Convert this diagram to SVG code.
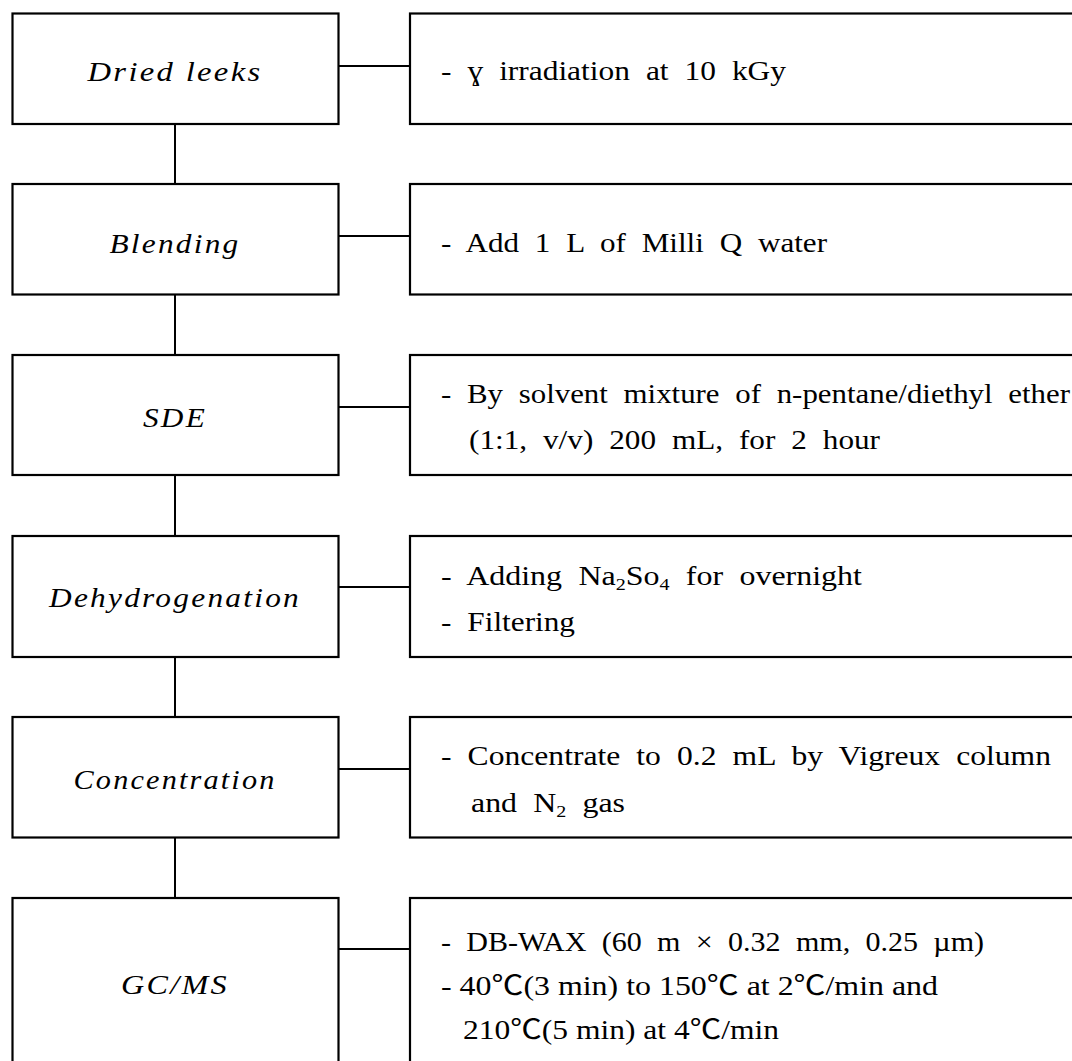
<svg xmlns="http://www.w3.org/2000/svg" width="1072" height="1061" viewBox="0 0 1072 1061">
<style>
.box{fill:#fff;stroke:#000;stroke-width:2.2}
.conn{stroke:#000;stroke-width:2;fill:none}
.lbl{font-family:"Liberation Serif","DejaVu Serif",serif;font-style:italic;font-size:28px;letter-spacing:2px;fill:#000;text-anchor:middle}
.txt{font-family:"Liberation Serif","Noto Sans CJK KR","DejaVu Serif",serif;font-size:27px;fill:#000;word-spacing:7px}
.tight{word-spacing:0}
.sub{font-size:17px}
</style>
<rect width="1072" height="1061" fill="#fff"/>
<g id="connectors">
<path class="conn" d="M175 124V184M175 295V355M175 475V536M175 657V717M175 838V898"/>
<path class="conn" d="M339 66H410M339 236H410M339 407H410M339 587H410M339 769H410M339 949H410"/>
</g>
<g id="n1">
<rect class="box" x="12.5" y="13.5" width="326" height="110.5"/>
<text class="lbl" x="175" y="81" textLength="175" lengthAdjust="spacingAndGlyphs">Dried leeks</text>
</g>
<g id="d1">
<rect class="box" x="410" y="13.5" width="680" height="110.5"/>
<text class="txt" x="441" y="80" textLength="345" lengthAdjust="spacingAndGlyphs">- ɣ irradiation at 10 kGy</text>
</g>
<g id="n2">
<rect class="box" x="12.5" y="184" width="326" height="110.5"/>
<text class="lbl" x="175" y="253" textLength="131" lengthAdjust="spacingAndGlyphs">Blending</text>
</g>
<g id="d2">
<rect class="box" x="410" y="184" width="680" height="110.5"/>
<text class="txt" x="441" y="252" textLength="386" lengthAdjust="spacingAndGlyphs">- Add 1 L of Milli Q water</text>
</g>
<g id="n3">
<rect class="box" x="12.5" y="355" width="326" height="120"/>
<text class="lbl" x="175" y="427" textLength="64" lengthAdjust="spacingAndGlyphs">SDE</text>
</g>
<g id="d3">
<rect class="box" x="410" y="355" width="680" height="120"/>
<text class="txt" x="441" y="403" textLength="629" lengthAdjust="spacingAndGlyphs">- By solvent mixture of n-pentane/diethyl ether</text>
<text class="txt" x="469" y="449" textLength="411" lengthAdjust="spacingAndGlyphs">(1:1, v/v) 200 mL, for 2 hour</text>
</g>
<g id="n4">
<rect class="box" x="12.5" y="536" width="326" height="121"/>
<text class="lbl" x="175" y="607" textLength="252" lengthAdjust="spacingAndGlyphs">Dehydrogenation</text>
</g>
<g id="d4">
<rect class="box" x="410" y="536" width="680" height="121"/>
<text class="txt" x="441" y="585" textLength="421" lengthAdjust="spacingAndGlyphs">- Adding Na<tspan class="sub" dy="5">2</tspan><tspan dy="-5">So</tspan><tspan class="sub" dy="5">4</tspan><tspan dy="-5"> for overnight</tspan></text>
<text class="txt" x="441" y="631" textLength="134" lengthAdjust="spacingAndGlyphs">- Filtering</text>
</g>
<g id="n5">
<rect class="box" x="12.5" y="717" width="326" height="120.5"/>
<text class="lbl" x="175" y="789" textLength="203" lengthAdjust="spacingAndGlyphs">Concentration</text>
</g>
<g id="d5">
<rect class="box" x="410" y="717" width="680" height="120.5"/>
<text class="txt" x="441" y="765" textLength="610" lengthAdjust="spacingAndGlyphs">- Concentrate to 0.2 mL by Vigreux column</text>
<text class="txt" x="471" y="812" textLength="154" lengthAdjust="spacingAndGlyphs">and N<tspan class="sub" dy="5">2</tspan><tspan dy="-5"> gas</tspan></text>
</g>
<g id="n6">
<rect class="box" x="12.5" y="898" width="326" height="190"/>
<text class="lbl" x="175" y="994" textLength="108" lengthAdjust="spacingAndGlyphs">GC/MS</text>
</g>
<g id="d6">
<rect class="box" x="410" y="898" width="680" height="190"/>
<text class="txt" x="441" y="951" textLength="543" lengthAdjust="spacingAndGlyphs">- DB-WAX (60 m × 0.32 mm, 0.25 µm)</text>
<text class="txt tight" x="441" y="995" textLength="497" lengthAdjust="spacingAndGlyphs">- 40℃(3 min) to 150℃ at 2℃/min and</text>
<text class="txt tight" x="463" y="1039" textLength="316" lengthAdjust="spacingAndGlyphs">210℃(5 min) at 4℃/min</text>
</g>
</svg>
